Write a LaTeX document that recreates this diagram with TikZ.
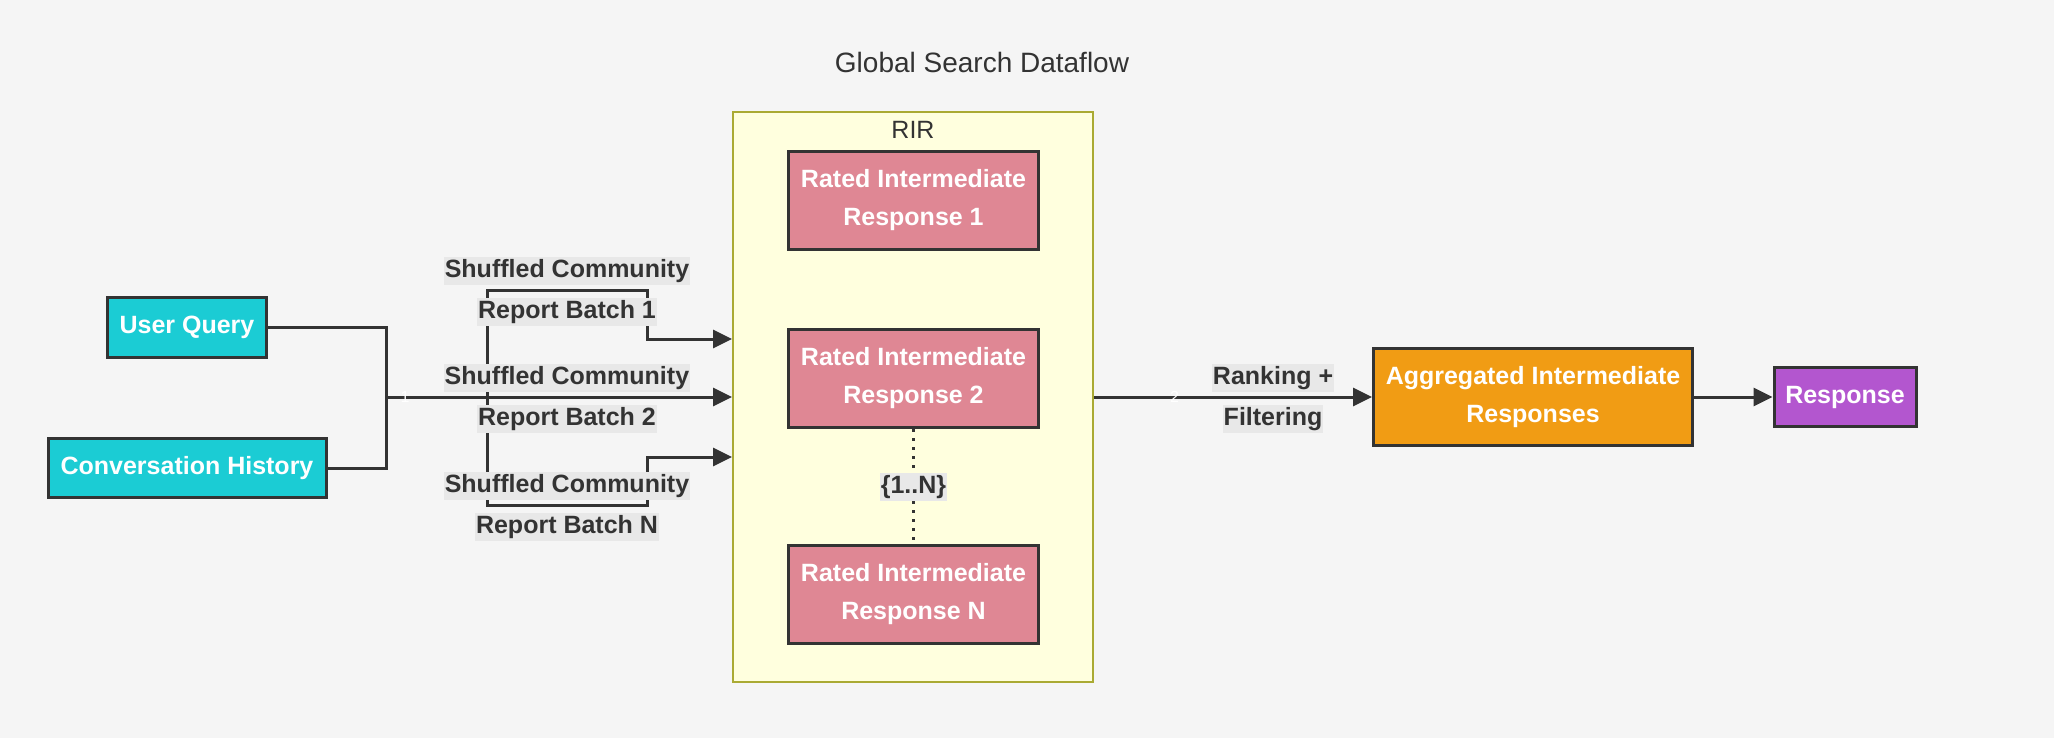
\documentclass[tikz,border=0pt]{standalone}
\usepackage{fontspec}
\setmainfont{Liberation Sans}
\usetikzlibrary{arrows.meta,positioning}
\definecolor{bggray}{HTML}{F5F5F5}
\definecolor{ink}{HTML}{333333}
\definecolor{lblgray}{HTML}{E8E8E8}
\definecolor{cyanbox}{HTML}{1BCCD4}
\definecolor{pinkbox}{HTML}{DF8794}
\definecolor{orangebox}{HTML}{F19C14}
\definecolor{purplebox}{HTML}{B356CF}
\definecolor{rirfill}{HTML}{FFFFDE}
\definecolor{rirline}{HTML}{AAAA33}
\begin{document}
\begin{tikzpicture}[x=1pt, y=1pt, node distance=89pt, auto, color=ink,
    >={Triangle[length=9.5pt,width=9pt]},
    box/.style={draw=ink, line width=1.5pt, text=white, align=center, inner sep=0pt,
      font=\bfseries\fontsize{12.5}{19}\selectfont},
    lbl/.style={fill=lblgray, text=ink, inner xsep=0.5pt, inner ysep=0pt,
      text height=10.5pt, text depth=3.5pt, font=\bfseries\fontsize{12.5}{15}\selectfont},
    num/.style={text=white, anchor=center, inner sep=0pt, font=\fontsize{8}{9}\selectfont},
    link/.style={->, line width=1.5pt}]
\useasboundingbox[fill=bggray] (0,0) rectangle (1027,-369);
\node[text=ink, font=\fontsize{14}{17}\selectfont] (title) at (491,-31) {Global Search Dataflow};
% RIR group
\node[draw=rirline, line width=1pt, fill=rirfill, minimum width=180pt, minimum height=285pt, inner sep=0pt] (rir) at (456.5,-198.5) {};
\node[anchor=north, yshift=-1.5pt, text=ink, font=\fontsize{12.5}{15}\selectfont] (rirlbl) at (rir.north) {RIR};
\node[box, fill=pinkbox, minimum width=125pt, minimum height=49pt] (R1) at (456.75,-100.25) {Rated Intermediate\\Response 1};
\node[box, fill=pinkbox, minimum width=125pt, minimum height=49pt, below of=R1] (R2) {Rated Intermediate\\Response 2};
\node[box, fill=pinkbox, minimum width=125pt, minimum height=49pt, below of=R2, node distance=108pt] (RN) {Rated Intermediate\\Response N};
% inputs
\node[box, fill=cyanbox, minimum width=79.5pt, minimum height=30pt] (Q) at (93.5,-163.5) {User Query};
\node[box, fill=cyanbox, minimum width=139pt, minimum height=29.5pt, below of=Q, node distance=70.5pt] (H) {Conversation History};
% outputs
\node[box, fill=orangebox, minimum width=159.5pt, minimum height=48.5pt, right of=rir, node distance=310pt] (A) {Aggregated Intermediate\\Responses};
\node[box, fill=purplebox, minimum width=71pt, minimum height=29.5pt, right of=A, node distance=156pt] (R) {Response};
\coordinate (J) at (193,-198.5);
\coordinate (in1) at ([yshift=29pt]rir.west);
\coordinate (inN) at ([yshift=-30pt]rir.west);
\draw[line width=1.5pt] (Q) -| (J);
\draw[line width=1.5pt] (H) -| (J);
\draw[link] (J) -- ++(50.5,0) |- ++(80,53.5)
    node[pos=0.75, above=2pt, lbl] {Shuffled Community}
    node[pos=0.75, below=3pt, lbl] {Report Batch 1} |- (in1);
\draw[link] (J) -- ++(50.5,0) |- ++(80,-54)
    node[pos=0.75, above=2pt, lbl] {Shuffled Community}
    node[pos=0.75, below=3pt, lbl] {Report Batch N} |- (inN);
\draw[link] (J) -- node[num, pos=0.055] {1}
    node[pos=0.523, above=2pt, lbl] {Shuffled Community}
    node[pos=0.523, below=3pt, lbl] {Report Batch 2} (rir.west);
\draw[line width=1.5pt, dash pattern=on 1.6pt off 2.9pt] (R2) -- node[lbl, anchor=center] {\{1..N\}} (RN);
\draw[link] (rir) -- node[num, pos=0.29] {2}
    node[pos=0.644, above=2pt, lbl] {Ranking +}
    node[pos=0.644, below=3pt, lbl] {Filtering} (A);
\draw[link] (A) -- (R);
\end{tikzpicture}
\end{document}
